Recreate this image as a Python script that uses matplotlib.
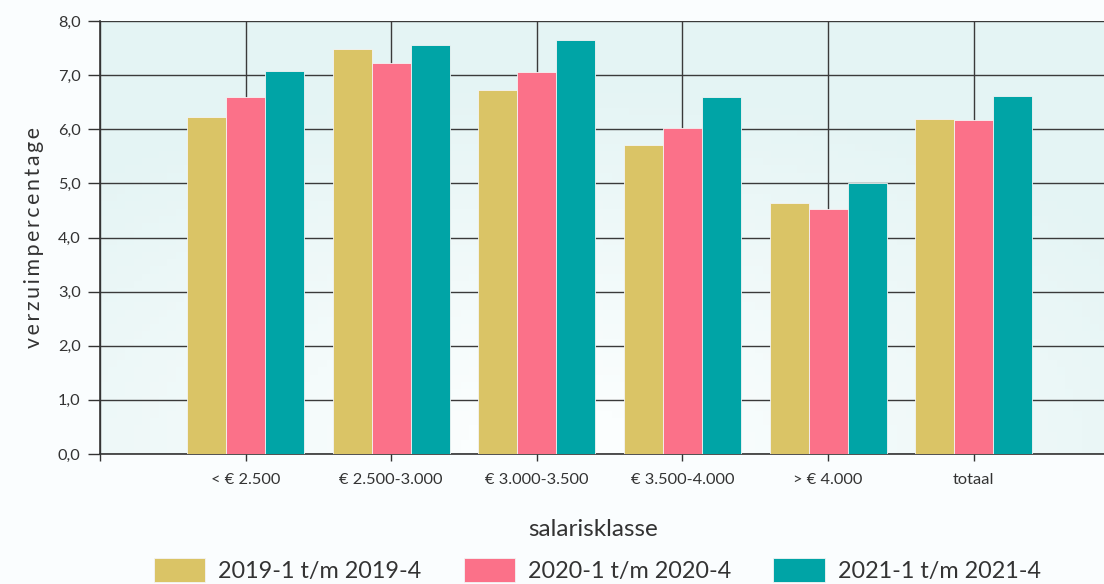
import numpy as np
import matplotlib
matplotlib.use("Agg")
import matplotlib.pyplot as plt
from matplotlib.colors import LinearSegmentedColormap

categories = ["< € 2.500", "€ 2.500-3.000", "€ 3.000-3.500", "€ 3.500-4.000", "> € 4.000", "totaal"]
series_names = ["2019-1 t/m 2019-4", "2020-1 t/m 2020-4", "2021-1 t/m 2021-4"]
v2019 = [6.23, 7.49, 6.72, 5.71, 4.63, 6.19]
v2020 = [6.59, 7.23, 7.06, 6.02, 4.52, 6.18]
v2021 = [7.07, 7.56, 7.65, 6.59, 5.00, 6.62]
colors = ["#DAC466", "#FB7189", "#00A4A6"]

plt.rcParams['font.family'] = ['Lato', 'DejaVu Sans']
txt = "#333333"

fig = plt.figure(figsize=(11.04, 5.84), dpi=100, facecolor="#FAFDFE")
ax = fig.add_axes([100/1104, 130/584, 1 - 100/1104 + 0.002, 433/584])

# background gradient
ny, nx = 60, 120
yy, xx = np.mgrid[0:1:ny*1j, 0:1:nx*1j]
d = np.sqrt(((xx - 0.45) / 0.9) ** 2 + ((yy - 0.0) / 1.1) ** 2)
cmap = LinearSegmentedColormap.from_list("bg", ["#FBFEFE", "#E4F4F4"])
ax.imshow(d, cmap=cmap, extent=[0, 1, 0, 1], transform=ax.transAxes,
          origin="lower", aspect="auto", zorder=0, vmin=0.1, vmax=0.8)

x = np.arange(len(categories))
w = 0.268
for i, (vals, c, name) in enumerate(zip([v2019, v2020, v2021], colors, series_names)):
    ax.bar(x + (i - 1) * w, vals, w, color=c, edgecolor="#F4F4F4", linewidth=0.6,
           label=name, zorder=3)

ax.set_xlim(-1, 5.91)
ax.set_ylim(0, 8)
ax.set_yticks(np.arange(0, 9))
ax.set_yticklabels([f"{v:.1f}".replace(".", ",") for v in range(0, 9)])
ax.set_xticks(np.arange(-1, 6))
ax.set_xticklabels([""] + categories)
ax.grid(True, color="#3A3A3A", linewidth=1.0, zorder=1)
ax.set_axisbelow(True)
for s in ["top", "right"]:
    ax.spines[s].set_visible(False)
for s in ["left", "bottom"]:
    ax.spines[s].set_color("#333333")
    ax.spines[s].set_linewidth(1.2)
ax.tick_params(axis="y", length=9, width=1, color="#333333", labelsize=11.8, labelcolor=txt, pad=5)
ax.tick_params(axis="x", length=5, width=1, color="#333333", labelsize=11.8, labelcolor=txt, pad=9)

ax.set_ylabel("v e r z u i m p e r c e n t a g e".replace(" ", "\u2009"), fontsize=15.3,
              color=txt, labelpad=10)
ax.set_xlabel("salarisklasse", fontsize=17.5, color=txt, labelpad=14)
ax.xaxis.set_label_coords(0.49, -0.15)

fig.legend(loc="center", bbox_to_anchor=(0.541, 0.024), ncol=3, frameon=False,
           fontsize=16.8, handlelength=2.2, handleheight=1.25, handletextpad=0.56,
           columnspacing=1.8, labelcolor=txt)

fig.savefig("out.png", dpi=100, facecolor=fig.get_facecolor())
